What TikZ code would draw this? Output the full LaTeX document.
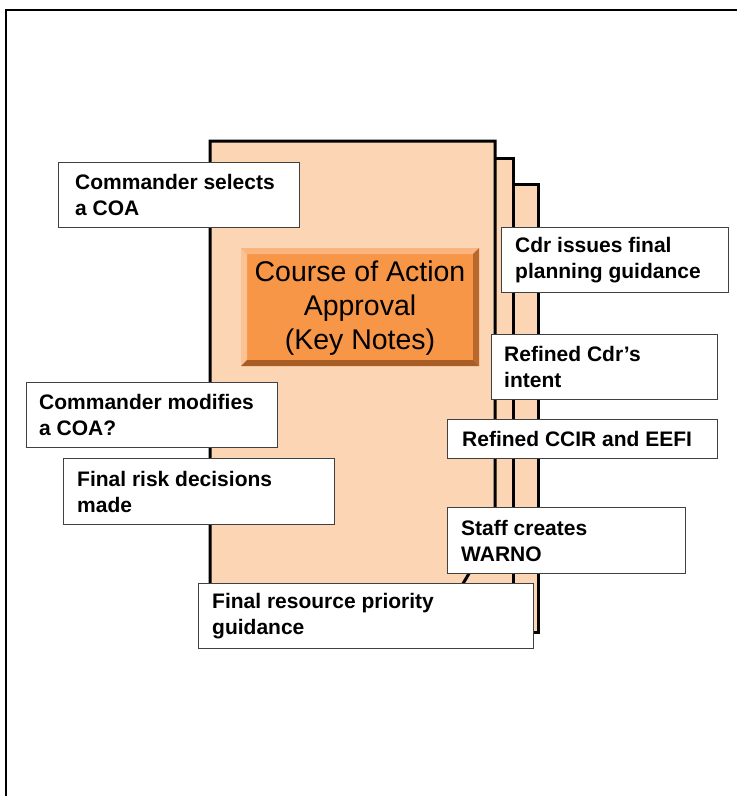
\documentclass[tikz,border=0pt]{standalone}
\usepackage{fontspec}
\setmainfont{Liberation Sans}
\definecolor{peach}{HTML}{FCD5B4}
\definecolor{orng}{HTML}{F79646}
\definecolor{orngL}{HTML}{FAB57E}
\definecolor{orngLL}{HTML}{FBC295}
\definecolor{orngD}{HTML}{B9672A}
\definecolor{orngDD}{HTML}{A85D25}
\definecolor{boxline}{HTML}{404040}
\tikzset{
  page/.style={draw=black, line width=3pt, fill=peach, line join=miter},
  notebox/.style={draw=boxline, line width=1.4pt, fill=white, anchor=north west, inner sep=0pt},
  notetxt/.style={anchor=west, align=left, inner sep=0pt, font=\bfseries\fontsize{21}{26}\selectfont},
}
\begin{document}
\begin{tikzpicture}[x=1pt,y=-1pt]
\useasboundingbox (0,0) rectangle (737,796);
\fill[white] (0,0) rectangle (737,796);
% outer frame
\draw[line width=2pt] (760,10) -- (6,10) -- (6,820);
% stacked pages
\draw[page] (230,184) rectangle (538,632);
\draw[page] (230,158) rectangle (513,607);
\draw[page] (210,141) -- (495,141) -- (495,530) -- (455,597) -- (210,597) -- cycle;
% orange bevelled title box
\fill[orng] (241,248) rectangle (479,366);
\fill[orngL] (241,248) -- (479,248) -- (473,254) -- (247,254) -- cycle;
\fill[orngLL] (241,248) -- (247,254) -- (247,360) -- (241,366) -- cycle;
\fill[orngD] (479,248) -- (479,366) -- (473,360) -- (473,254) -- cycle;
\fill[orngDD] (241,366) -- (479,366) -- (473,360) -- (247,360) -- cycle;
\node[inner sep=0pt, align=center, font=\fontsize{28.5}{34}\selectfont] (title) at (360,308) {Course of Action\\Approval\\(Key Notes)};
% note boxes
\node[notebox, minimum width=241pt, minimum height=65pt] (b1) at (58,162) {};
\node[notetxt] (t1) at ([xshift=17pt]b1.west) {Commander selects\\a COA};
\node[notebox, minimum width=227pt, minimum height=65pt] (b2) at (501,227) {};
\node[notetxt] (t2) at ([xshift=14pt]b2.west) {Cdr issues final\\planning guidance};
\node[notebox, minimum width=226pt, minimum height=65pt] (b3) at (491,334) {};
\node[notetxt] (t3) at ([xshift=13pt]b3.west) {Refined Cdr’s\\intent};
\node[notebox, minimum width=270pt, minimum height=39pt] (b4) at (447,419) {};
\node[notetxt] (t4) at ([xshift=15pt]b4.west) {Refined CCIR and EEFI};
\node[notebox, minimum width=251pt, minimum height=65pt] (b5) at (26,382) {};
\node[notetxt] (t5) at ([xshift=13pt]b5.west) {Commander modifies\\a COA?};
\node[notebox, minimum width=271pt, minimum height=66pt] (b6) at (63,458) {};
\node[notetxt] (t6) at ([xshift=14pt]b6.west) {Final risk decisions\\made};
\node[notebox, minimum width=238pt, minimum height=66pt] (b7) at (447,507) {};
\node[notetxt] (t7) at ([xshift=14pt]b7.west) {Staff creates\\WARNO};
\node[notebox, minimum width=335pt, minimum height=65pt] (b8) at (198,583) {};
\node[notetxt] (t8) at ([xshift=14pt]b8.west) {Final resource priority\\guidance};
\end{tikzpicture}
\end{document}
